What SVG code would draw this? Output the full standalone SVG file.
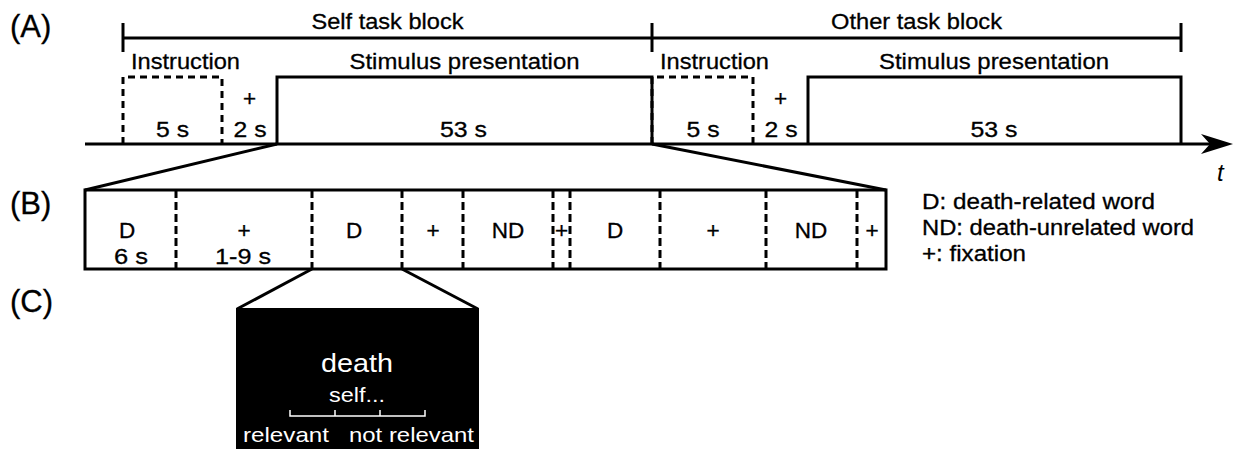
<svg xmlns="http://www.w3.org/2000/svg" width="1233" height="449" viewBox="0 0 1233 449">
<style>
  .t { font-family: "Liberation Sans", Arial, sans-serif; font-size: 22.5px; fill: #000; stroke: #000; stroke-width: 0.3; }
  .lbl { font-family: "Liberation Sans", Arial, sans-serif; font-size: 31px; fill: #000; stroke: #000; stroke-width: 0.3; }
  .w { font-family: "Liberation Sans", Arial, sans-serif; fill: #fff; }
  .solid { fill: none; stroke: #000; stroke-width: 3; }
  .dash { fill: none; stroke: #000; stroke-width: 3; stroke-dasharray: 7 5; }
  .bdash { fill: none; stroke: #000; stroke-width: 3; stroke-dasharray: 8 4; }
  .mid { text-anchor: middle; }
</style>
<rect width="1233" height="449" fill="#fff"/>

<g id="panel-labels">
  <text class="lbl" x="10" y="37">(A)</text>
  <text class="lbl" x="10" y="214">(B)</text>
  <text class="lbl" x="10" y="312">(C)</text>
</g>

<g id="block-bracket">
  <line class="solid" x1="123" y1="38" x2="1181" y2="38"/>
  <line class="solid" x1="123" y1="23" x2="123" y2="52"/>
  <line class="solid" x1="652" y1="23" x2="652" y2="52"/>
  <line class="solid" x1="1181" y1="23" x2="1181" y2="52"/>
  <text class="t mid" x="387.5" y="29" textLength="152" lengthAdjust="spacingAndGlyphs">Self task block</text>
  <text class="t mid" x="916.5" y="29" textLength="171" lengthAdjust="spacingAndGlyphs">Other task block</text>
</g>

<g id="time-axis">
  <line class="solid" x1="85" y1="144" x2="1212" y2="144"/>
  <path d="M1233,144 L1201,134 L1210,144 L1201,154 Z" fill="#000"/>
  <text x="1217" y="181" style="font-family: 'Liberation Sans', Arial, sans-serif; font-size: 24px; font-style: italic;">t</text>
</g>

<g id="self-instruction">
  <path class="dash" d="M123,144 V77 H222 V144"/>
  <text class="t" x="131" y="69" textLength="109" lengthAdjust="spacingAndGlyphs">Instruction</text>
  <text class="t mid" x="172.5" y="137" textLength="33" lengthAdjust="spacingAndGlyphs">5 s</text>
</g>
<g id="self-fixation">
  <text class="t mid" x="249.5" y="106">+</text>
  <text class="t mid" x="250" y="137" textLength="33" lengthAdjust="spacingAndGlyphs">2 s</text>
</g>
<g id="self-stimulus">
  <path class="solid" d="M277,144 V77 H652 V144"/>
  <text class="t mid" x="464.5" y="69" textLength="230" lengthAdjust="spacingAndGlyphs">Stimulus presentation</text>
  <text class="t mid" x="463.5" y="137" textLength="47" lengthAdjust="spacingAndGlyphs">53 s</text>
</g>

<g id="other-instruction">
  <path class="dash" d="M652,144 V77 H753 V144"/>
  <text class="t" x="660" y="69" textLength="109" lengthAdjust="spacingAndGlyphs">Instruction</text>
  <text class="t mid" x="703" y="137" textLength="33" lengthAdjust="spacingAndGlyphs">5 s</text>
</g>
<g id="other-fixation">
  <text class="t mid" x="780.5" y="106">+</text>
  <text class="t mid" x="781" y="137" textLength="33" lengthAdjust="spacingAndGlyphs">2 s</text>
</g>
<g id="other-stimulus">
  <path class="solid" d="M808,144 V77 H1181 V144"/>
  <text class="t mid" x="994" y="69" textLength="230" lengthAdjust="spacingAndGlyphs">Stimulus presentation</text>
  <text class="t mid" x="994" y="137" textLength="47" lengthAdjust="spacingAndGlyphs">53 s</text>
</g>

<g id="connectors">
  <line class="solid" x1="277" y1="144" x2="85" y2="190"/>
  <line class="solid" x1="652" y1="144" x2="886" y2="190"/>
  <line class="solid" x1="312" y1="269" x2="237" y2="309"/>
  <line class="solid" x1="402" y1="269" x2="478" y2="309"/>
</g>

<g id="trial-sequence">
  <rect class="solid" x="85" y="190" width="801" height="79"/>
  <line class="bdash" x1="176" y1="190" x2="176" y2="269"/>
  <line class="bdash" x1="312" y1="190" x2="312" y2="269"/>
  <line class="bdash" x1="402" y1="190" x2="402" y2="269"/>
  <line class="bdash" x1="463" y1="190" x2="463" y2="269"/>
  <line class="bdash" x1="553" y1="190" x2="553" y2="269"/>
  <line class="bdash" x1="570" y1="190" x2="570" y2="269"/>
  <line class="bdash" x1="660" y1="190" x2="660" y2="269"/>
  <line class="bdash" x1="766" y1="190" x2="766" y2="269"/>
  <line class="bdash" x1="857" y1="190" x2="857" y2="269"/>
  <g id="seg-d1">
    <text class="t mid" x="127" y="238">D</text>
    <text class="t mid" x="131" y="264" textLength="34" lengthAdjust="spacingAndGlyphs">6 s</text>
  </g>
  <g id="seg-f1">
    <text class="t mid" x="244" y="238">+</text>
    <text class="t mid" x="243" y="264" textLength="56" lengthAdjust="spacingAndGlyphs">1-9 s</text>
  </g>
  <g id="seg-d2"><text class="t mid" x="354" y="238">D</text></g>
  <g id="seg-f2"><text class="t mid" x="433" y="238">+</text></g>
  <g id="seg-nd1"><text class="t mid" x="508" y="238">ND</text></g>
  <g id="seg-f3"><text class="t mid" x="561.5" y="238">+</text></g>
  <g id="seg-d3"><text class="t mid" x="615" y="238">D</text></g>
  <g id="seg-f4"><text class="t mid" x="713" y="238">+</text></g>
  <g id="seg-nd2"><text class="t mid" x="811" y="238">ND</text></g>
  <g id="seg-f5"><text class="t mid" x="872" y="238">+</text></g>
</g>

<g id="legend">
  <text class="t" x="922" y="209" textLength="233" lengthAdjust="spacingAndGlyphs">D: death-related word</text>
  <text class="t" x="922" y="235" textLength="272" lengthAdjust="spacingAndGlyphs">ND: death-unrelated word</text>
  <text class="t" x="922" y="261" textLength="104" lengthAdjust="spacingAndGlyphs">+: fixation</text>
</g>

<g id="trial-screen">
  <rect x="237" y="309" width="241" height="139" fill="#000" stroke="#000" stroke-width="2"/>
  <text class="w mid" x="357" y="372" font-size="26" textLength="72" lengthAdjust="spacingAndGlyphs">death</text>
  <text class="w mid" x="357" y="402" font-size="21" textLength="56" lengthAdjust="spacingAndGlyphs">self...</text>
  <path d="M290,410 V416 H425 V410 M335,416 V410 M380,416 V410" fill="none" stroke="#fff" stroke-width="1.5"/>
  <text class="w" x="243" y="442" font-size="21" textLength="86" lengthAdjust="spacingAndGlyphs">relevant</text>
  <text class="w" x="349" y="442" font-size="21" textLength="125" lengthAdjust="spacingAndGlyphs">not relevant</text>
</g>
</svg>
